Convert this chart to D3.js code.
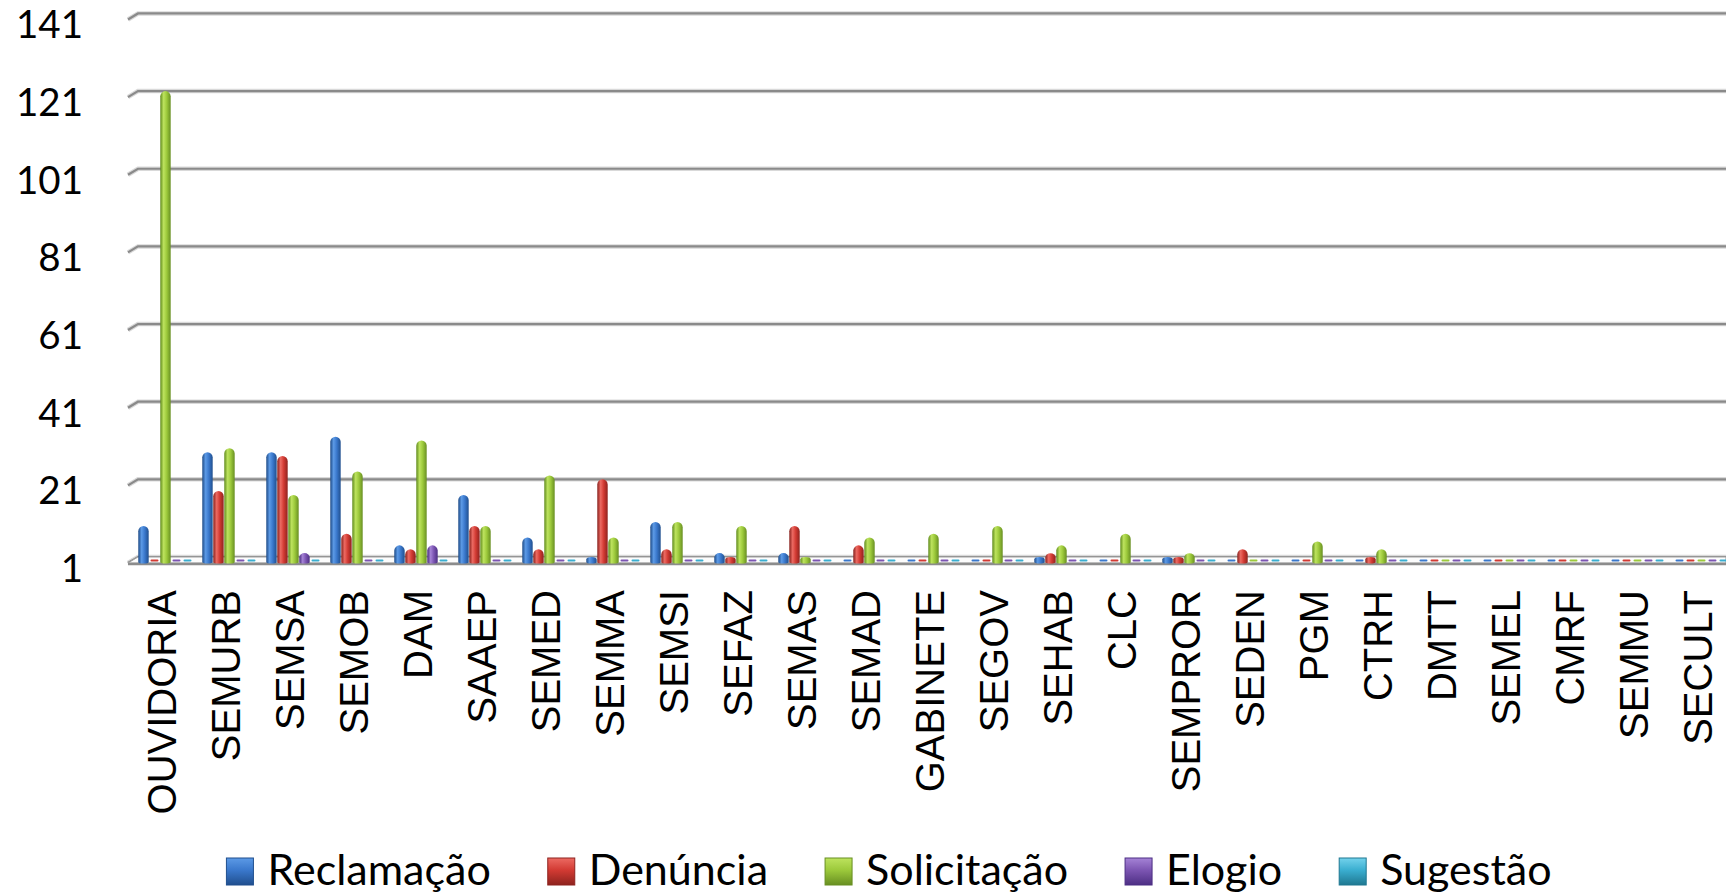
<!DOCTYPE html>
<html>
<head>
<meta charset="utf-8">
<script src="https://cdn.jsdelivr.net/npm/d3@7"></script>
<style>
  html, body { margin: 0; padding: 0; background: #ffffff; }
  svg { display: block; }
</style>
</head>
<body>
<svg id="chart" width="1726" height="896"></svg>
<script>
// ---------------- DATA ----------------
const categories = ["OUVIDORIA","SEMURB","SEMSA","SEMOB","DAM","SAAEP","SEMED","SEMMA","SEMSI","SEFAZ","SEMAS","SEMAD","GABINETE","SEGOV","SEHAB","CLC","SEMPROR","SEDEN","PGM","CTRH","DMTT","SEMEL","CMRF","SEMMU","SECULT"];
const seriesNames = ["Reclamação","Denúncia","Solicitação","Elogio","Sugestão"];
const reclamacao  = [9,28,28,32,4,17,6,1,10,2,2,0,0,0,1,0,1,0,0,0,0,0,0,0,0];
const denuncia    = [0,18,27,7,3,9,3,21,3,1,9,4,0,0,2,0,1,3,0,1,0,0,0,0,0];
const solicitacao = [121,29,17,23,31,9,22,6,10,9,1,6,7,9,4,7,2,0,5,3,0,0,0,0,0];
const elogio      = [0,0,2,0,4,0,0,0,0,0,0,0,0,0,0,0,0,0,0,0,0,0,0,0,0];
const sugestao    = [0,0,0,0,0,0,0,0,0,0,0,0,0,0,0,0,0,0,0,0,0,0,0,0,0];
const tickValues  = [1,21,41,61,81,101,121,141];

const seriesValues = [reclamacao, denuncia, solicitacao, elogio, sugestao];
// colour ramps: [dark edge, highlight, base, dark edge]
const palettes = [
  ["#1d4a86","#5c9ae6","#3a78cc","#204f8e"],
  ["#86201c","#ec6a62","#d23a33","#8e231e"],
  ["#5f8a1c","#bde35e","#9cc93b","#688f22"],
  ["#46297a","#a583d6","#7c55b2","#4d2f84"],
  ["#1b6f88","#73d2ec","#3aaed0","#1f7891"]
];

// ---------------- LAYOUT ----------------
const W = 1726, H = 896;
const depthX = 10, depthY = 6;          // 3-D offset of the back wall
const svg = d3.select("#chart");

const y = d3.scaleLinear().domain([1, 141]).range([557, 13.45]);
const x0 = d3.scaleBand().domain(categories).range([133.5, 1733.5]).paddingInner(0.1406).paddingOuter(0.07);
const x1 = d3.scaleBand().domain(seriesNames).range([0, x0.bandwidth()]);
const wallLeft = x0(categories[0]);
const base = y(1) + 5;                   // floor line under the columns

// gradients
const defs = svg.append("defs");
palettes.forEach((p, i) => {
  const g = defs.append("linearGradient").attr("id", "cyl" + i)
    .attr("x1", "0").attr("x2", "1").attr("y1", "0").attr("y2", "0");
  g.append("stop").attr("offset", "0%").attr("stop-color", p[0]);
  g.append("stop").attr("offset", "32%").attr("stop-color", p[1]);
  g.append("stop").attr("offset", "62%").attr("stop-color", p[2]);
  g.append("stop").attr("offset", "100%").attr("stop-color", p[3]);
  const lg = defs.append("linearGradient").attr("id", "leg" + i)
    .attr("x1", "0").attr("x2", "0").attr("y1", "0").attr("y2", "1");
  lg.append("stop").attr("offset", "0%").attr("stop-color", p[1]);
  lg.append("stop").attr("offset", "45%").attr("stop-color", p[2]);
  lg.append("stop").attr("offset", "100%").attr("stop-color", p[3]);
});

// ---------------- GRID (back wall) ----------------
const grid = svg.append("g");
tickValues.forEach(t => {
  const yy = y(t);
  grid.append("path")
    .attr("d", `M${wallLeft - depthX},${yy + depthY}L${wallLeft},${yy}L${W},${yy}`)
    .attr("fill", "none").attr("stroke", "#d9d9d9").attr("stroke-width", 4.5);
  grid.append("path")
    .attr("d", `M${wallLeft - depthX},${yy + depthY}L${wallLeft},${yy}L${W},${yy}`)
    .attr("fill", "none").attr("stroke", "#8a8a8a").attr("stroke-width", 2.2);
});

// ---------------- FLOOR ----------------
const fy = y(1);
svg.append("path")
  .attr("d", `M${wallLeft},${fy}L${W},${fy}L${W},${fy + depthY}L${wallLeft - depthX},${fy + depthY}Z`)
  .attr("fill", "#fcfcfc").attr("stroke", "#a0a0a0").attr("stroke-width", 1);
svg.append("line")
  .attr("x1", wallLeft - depthX).attr("x2", W)
  .attr("y1", fy + depthY + 1).attr("y2", fy + depthY + 1)
  .attr("stroke", "#8c8c8c").attr("stroke-width", 2.6);

// ---------------- Y LABELS ----------------
svg.append("g").selectAll("text").data(tickValues).join("text")
  .attr("x", 83).attr("y", d => y(d) + 25)
  .attr("text-anchor", "end")
  .attr("font-family", "Lato, 'Open Sans', sans-serif")
  .attr("font-size", 38.5)
  .attr("fill", "#000")
  .text(d => d);

// ---------------- COLUMNS ----------------
function cylinder(xl, w, top, bottom) {
  const h = bottom - top;
  const r = Math.min(w / 2, h / 2);
  return `M${xl},${bottom}L${xl},${top + r}A${w/2},${r} 0 0 1 ${xl + w},${top + r}L${xl + w},${bottom}A${w/2},${Math.min(1.5, h/2)} 0 0 1 ${xl},${bottom}Z`;
}
const bars = svg.append("g");
categories.forEach((c, ci) => {
  seriesNames.forEach((s, si) => {
    const v = seriesValues[si][ci];
    const xl = x0(c) + x1(s);
    const w = x1.bandwidth();
    if (v < 1) {
      // value below the axis minimum: a flat dash lying on the floor
      bars.append("rect")
        .attr("x", xl + 1.5).attr("y", base - 2.6)
        .attr("width", w - 3).attr("height", 2.2)
        .attr("rx", 1.1)
        .attr("fill", palettes[si][2]);
    } else {
      const top = y(v);
      bars.append("path")
        .attr("d", cylinder(xl + 0.3, w - 0.6, top, base))
        .attr("fill", `url(#cyl${si})`);
    }
  });
});

// ---------------- X LABELS ----------------
svg.append("g").selectAll("text").data(categories).join("text")
  .attr("transform", d => `translate(${x0(d) + x0.bandwidth() / 2 + 10.5},590) rotate(-90)`)
  .attr("text-anchor", "end")
  .attr("font-family", "'Liberation Sans', Arial, sans-serif")
  .attr("font-size", 40)
  .attr("fill", "#000")
  .text(d => d);

// ---------------- LEGEND ----------------
const legend = svg.append("g");
const box = 27, gapText = 14, gapItem = 57, legY = 885;
const items = seriesNames.map((s, i) => {
  const g = legend.append("g");
  g.append("rect").attr("x", 0).attr("y", legY - box).attr("width", box).attr("height", box)
    .attr("fill", `url(#leg${i})`).attr("stroke", palettes[i][3]).attr("stroke-width", 1);
  const t = g.append("text").attr("x", box + gapText).attr("y", legY)
    .attr("font-family", "Lato, 'Open Sans', sans-serif").attr("font-size", 43)
    .attr("fill", "#000").text(s);
  return { g, w: box + gapText + t.node().getComputedTextLength() };
});
const total = d3.sum(items, d => d.w) + gapItem * (items.length - 1);
let cx = 889 - total / 2;
items.forEach(it => { it.g.attr("transform", `translate(${cx},0)`); cx += it.w + gapItem; });
</script>
</body>
</html>
